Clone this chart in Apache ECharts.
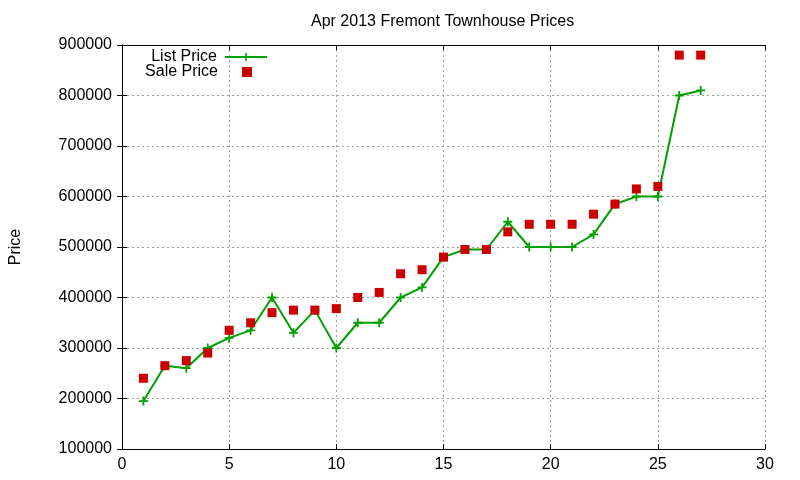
<!DOCTYPE html>
<html>
<head>
<meta charset="utf-8">
<script src="https://cdn.jsdelivr.net/npm/echarts@6/dist/echarts.min.js"></script>
<style>
  html, body { margin: 0; padding: 0; background: #fff; }
  #chart { width: 800px; height: 480px; }
</style>
</head>
<body>
<div id="chart"></div>
<script>
// data
const days = [1, 2, 3, 4, 5, 6, 7, 8, 9, 10, 11, 12, 13, 14, 15, 16, 17, 18, 19, 20, 21, 22, 23, 24, 25, 26, 27]
const listPrices = [195000, 265000, 260000, 300000, 320000, 335000, 400000, 330000, 375000, 300000, 350000, 350000, 400000, 420000, 480000, 495000, 495000, 550000, 500000, 500000, 500000, 525000, 585000, 600000, 600000, 800000, 810000]
const salePrices = [240000, 265000, 275000, 290000, 335000, 350000, 370000, 375000, 375000, 378000, 400000, 410000, 447000, 455000, 480000, 495000, 495000, 530000, 545000, 545000, 545000, 565000, 585000, 615000, 620000, 880000, 880000]

const FONT = 'Liberation Sans, Arial, sans-serif'
const plus = 'path://M4,0H6V4H10V6H6V10H4V6H0V4H4Z'
// square in the middle of a 42 wide box, so the legend keys line up
const legendSquare = 'path://M0,5L0,5M16,0H26V10H16ZM42,5L42,5'

const chartDom = document.getElementById('chart')
const myChart = echarts.init(chartDom)

const gridLine = { show: true, lineStyle: { color: '#a0a0a0', width: 1, type: [2, 3] } }
const blackLine = { show: true, lineStyle: { color: '#000', width: 1 } }
const inTick = { show: true, inside: true, length: 5, lineStyle: { color: '#000' } }
const legendText = { fontFamily: FONT, fontSize: 16, color: '#000', padding: [0, 3, 0, 0] }

const option = {
  animation: false,
  backgroundColor: '#fff',
  textStyle: { fontFamily: FONT },
  title: {
    text: 'Apr 2013 Fremont Townhouse Prices',
    left: 306,
    top: 9,
    textStyle: { fontFamily: FONT, fontSize: 16, fontWeight: 'normal', color: '#000' },
  },
  legend: [
    {
      data: ['List Price'],
      right: 532,
      top: 49,
      padding: 0,
      align: 'right',
      itemWidth: 42,
      itemHeight: 10,
      textStyle: legendText,
    },
    {
      data: [{ name: 'Sale Price', icon: legendSquare }],
      right: 532,
      top: 64,
      padding: 0,
      align: 'right',
      itemWidth: 42,
      itemHeight: 10,
      textStyle: legendText,
    },
  ],
  grid: { left: 118, right: 35, top: 45, bottom: 31, containLabel: false },
  xAxis: [
    {
      type: 'value',
      min: 0,
      max: 30,
      interval: 5,
      axisLine: blackLine,
      axisTick: inTick,
      splitLine: gridLine,
      axisLabel: { color: '#000', fontSize: 16, fontFamily: FONT, margin: 8 },
    },
    {
      type: 'value',
      position: 'top',
      min: 0,
      max: 30,
      interval: 5,
      axisLine: blackLine,
      axisTick: inTick,
      splitLine: { show: false },
      axisLabel: { show: false },
    },
  ],
  yAxis: [
    {
      type: 'value',
      min: 100000,
      max: 900000,
      interval: 100000,
      name: 'Price',
      nameLocation: 'middle',
      nameRotate: 90,
      nameGap: 98,
      nameTextStyle: { color: '#000', fontSize: 16, fontFamily: FONT },
      axisLine: blackLine,
      axisTick: inTick,
      splitLine: gridLine,
      axisLabel: { color: '#000', fontSize: 16, fontFamily: FONT, margin: 10, formatter: (v) => String(v) },
    },
    {
      type: 'value',
      position: 'right',
      min: 100000,
      max: 900000,
      interval: 100000,
      axisLine: blackLine,
      axisTick: inTick,
      splitLine: { show: false },
      axisLabel: { show: false },
    },
  ],
  series: [
    {
      name: 'List Price',
      type: 'line',
      data: days.map((d, i) => [d, listPrices[i]]),
      symbol: plus,
      symbolSize: 9,
      showAllSymbol: true,
      color: '#00a000',
      lineStyle: { color: '#00a000', width: 2 },
      itemStyle: { color: '#00a000' },
      z: 3,
    },
    {
      name: 'Sale Price',
      type: 'scatter',
      data: days.map((d, i) => [d, salePrices[i]]),
      symbol: 'rect',
      symbolSize: 9,
      itemStyle: { color: '#cc0000', opacity: 1 },
      z: 4,
    },
  ],
}

option && myChart.setOption(option)
</script>
</body>
</html>
